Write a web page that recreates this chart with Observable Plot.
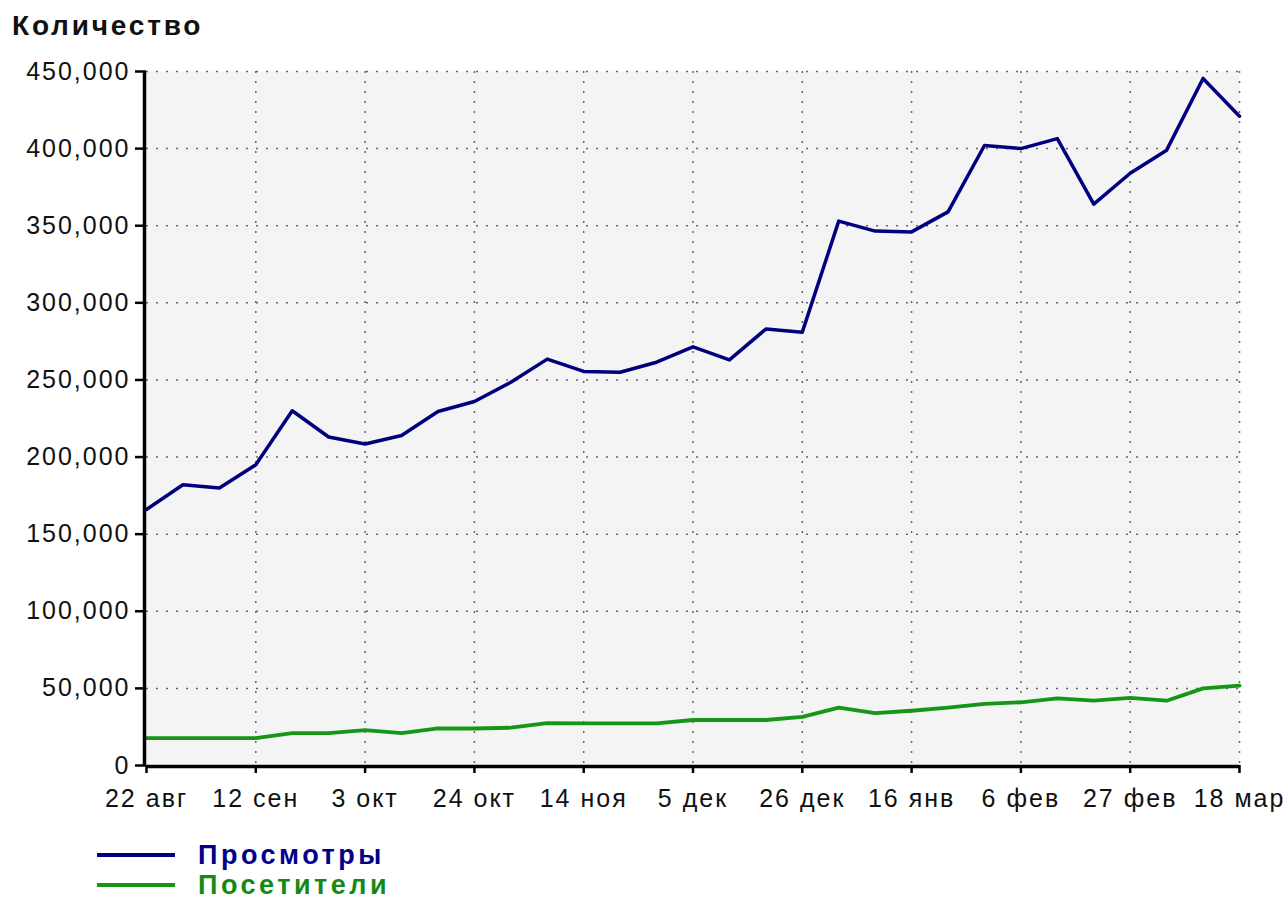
<!DOCTYPE html>
<html><head><meta charset="utf-8">
<script src="https://cdn.jsdelivr.net/npm/d3@7"></script>
<script src="https://cdn.jsdelivr.net/npm/@observablehq/plot@0.6"></script>
<style>
body{margin:0;background:#fff;width:1288px;height:900px;position:relative;overflow:hidden;font-family:"Liberation Sans",Arial,sans-serif}
#title{position:absolute;left:12px;top:10px;font-size:28px;font-weight:bold;letter-spacing:2.8px;color:#111}
#chart{position:absolute;left:0;top:50px}
#legend{position:absolute;left:97px;top:840px}
.row{display:flex;align-items:center;height:30px}
.sw{width:78px;height:3.5px;margin-right:23px}
.lab{font-size:27px;font-weight:bold;letter-spacing:3.5px;line-height:30px}
</style></head><body>
<div id="title">Количество</div>
<div id="chart"></div>
<div id="legend"></div>
<script>
const tickLabels = ["22 авг","12 сен","3 окт","24 окт","14 ноя","5 дек","26 дек","16 янв","6 фев","27 фев","18 мар"];
const views = [166000,182000,180000,195000,230000,213000,208500,214000,229500,236000,248500,263500,255500,255000,261500,271500,263000,283000,281000,353000,346500,346000,359000,402000,400000,406500,364000,384000,399000,445500,421000];
const visitors = [17700,17700,17700,17700,21000,21000,23000,21000,24000,24000,24500,27500,27300,27300,27300,29500,29500,29500,31500,37500,34000,35500,37500,40000,41000,43500,42000,43800,42000,50000,51800];
const yTicks = [0,50000,100000,150000,200000,250000,300000,350000,400000,450000];
const seriesNames = ["Просмотры","Посетители"];
const seriesColors = ["#00007f","#169616"];
const labelColors = ["#00008a","#148a14"];

const xTicks = tickLabels.map((d,k)=>k*3);
const data = views.map((v,i)=>({i, views:v, visitors:visitors[i]}));
const grid = {stroke:"#666", strokeOpacity:1, strokeDasharray:"2,8", strokeWidth:1.5};

const chart = Plot.plot({
  width:1288, height:780,
  marginTop:21, marginBottom:65, marginLeft:146, marginRight:49,
  x:{domain:[0,30]},
  y:{domain:[0,450000]},
  style:{fontFamily:"Liberation Sans, Arial, sans-serif", fontSize:"25px", color:"#111", background:"transparent", letterSpacing:"2px"},
  marks:[
    Plot.frame({fill:"#f4f4f4", stroke:null}),
    Plot.gridX(xTicks.slice(1), grid),
    Plot.gridY(yTicks.slice(1), grid),
    Plot.line(data,{x:"i", y:"visitors", stroke:seriesColors[1], strokeWidth:3.8}),
    Plot.line(data,{x:"i", y:"views", stroke:seriesColors[0], strokeWidth:3.5}),
    Plot.axisY(yTicks,{tickSize:11, tickPadding:5, tickFormat:d3.format(","), stroke:"#000", strokeWidth:2.5, label:null, fill:"#111"}),
    Plot.axisX(xTicks,{tickSize:8, tickPadding:16, tickFormat:d=>tickLabels[d/3], stroke:"#000", strokeWidth:2.5, label:null, fill:"#111"}),
    Plot.ruleX([0],{stroke:"#000", strokeWidth:3.5, dx:-2}),
    Plot.ruleY([0],{stroke:"#000", strokeWidth:3.5, dy:1})
  ]
});
document.getElementById("chart").appendChild(chart);

const legend = document.getElementById("legend");
seriesNames.forEach((n,k)=>{
  const row = document.createElement("div"); row.className="row";
  const sw = document.createElement("div"); sw.className="sw"; sw.style.background=seriesColors[k];
  const lab = document.createElement("div"); lab.className="lab"; lab.style.color=labelColors[k]; lab.textContent=n;
  row.appendChild(sw); row.appendChild(lab); legend.appendChild(row);
});
</script>
</body></html>
